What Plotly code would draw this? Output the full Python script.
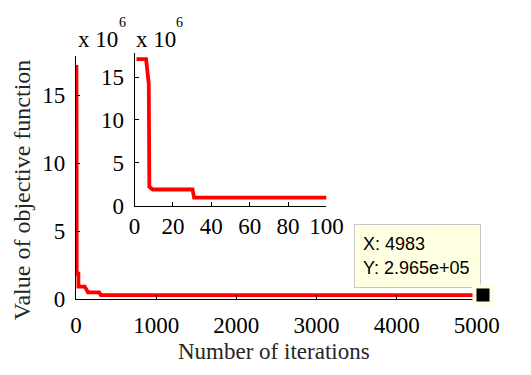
import plotly.graph_objects as go

# ---- data ----
iterations = [1, 6, 7.4, 7.7, 9.4, 30.2, 31, 100, 110, 150, 290, 310, 4983, 5000]
objective = [17.1e6, 17.1e6, 14.2e6, 2.2e6, 1.88e6, 1.88e6, 0.93e6, 0.93e6,
             0.93e6, 0.5e6, 0.5e6, 2.965e5, 2.965e5, 2.965e5]

inset_limit = 100
tip_x = 4983
tip_y = 2.965e5

main_xticks = [0, 1000, 2000, 3000, 4000, 5000]
main_yticks = [0, 5e6, 10e6, 15e6]
main_yticklabels = ["0", "5", "10", "15"]
inset_xticks = [0, 20, 40, 60, 80, 100]
inset_yticks = [0, 5e6, 10e6, 15e6]
inset_yticklabels = ["0", "5", "10", "15"]

x_title = "Number of iterations"
y_title = "Value of objective function"
exp_base = "x 10"
exp_power = "6"

W, H = 531, 375
def px(x):
    return x / W
def py(y):
    return 1 - y / H

inset_x = [v for v in iterations if v <= inset_limit]
inset_y = [o for v, o in zip(iterations, objective) if v <= inset_limit]

RED = "#FF0000"
SERIF = "Liberation Serif, Times New Roman, serif"
SANS = "Liberation Sans, Arial, sans-serif"

fig = go.Figure()
fig.add_trace(go.Scatter(x=iterations, y=objective, mode="lines",
                         line=dict(color=RED, width=3.8), xaxis="x", yaxis="y",
                         hoverinfo="skip", showlegend=False))
fig.add_trace(go.Scatter(x=inset_x, y=inset_y, mode="lines",
                         line=dict(color=RED, width=3.8), xaxis="x2", yaxis="y2",
                         hoverinfo="skip", showlegend=False))

axis_common = dict(showline=True, linecolor="black", linewidth=1, mirror=False,
                   ticks="inside", ticklen=4, tickcolor="black", tickwidth=1,
                   showgrid=False, zeroline=False,
                   tickfont=dict(family=SERIF, size=23, color="black"))

fig.update_layout(
    width=W, height=H,
    margin=dict(l=0, r=0, t=0, b=0),
    paper_bgcolor="white", plot_bgcolor="rgba(0,0,0,0)",
    xaxis=dict(domain=[px(74), px(498)], range=[0, 5000], tickvals=main_xticks,
               anchor="y", ticklabelstandoff=5, **axis_common),
    yaxis=dict(domain=[py(310), py(58)], range=[0, 1.79e7], tickvals=main_yticks,
               ticktext=main_yticklabels, anchor="x", ticklabelstandoff=5, **axis_common),
    xaxis2=dict(domain=[px(136), px(339)], range=[0, inset_limit], tickvals=inset_xticks,
                anchor="y2", ticklabelstandoff=0, **axis_common),
    yaxis2=dict(domain=[py(213), py(55)], range=[0, 1.78e7], tickvals=inset_yticks,
                ticktext=inset_yticklabels, anchor="x2", ticklabelstandoff=5, **axis_common),
    showlegend=False,
)

annotations = [
    dict(text=x_title, x=px(284), y=py(364), xref="paper", yref="paper",
         xanchor="center", yanchor="middle", showarrow=False,
         font=dict(family=SERIF, size=23, color="#262626")),
    dict(text=y_title, x=px(17), y=py(197), xref="paper", yref="paper",
         xanchor="center", yanchor="middle", showarrow=False, textangle=-90,
         font=dict(family=SERIF, size=24, color="#262626")),
]
for left in (74, 135):
    annotations.append(dict(text=exp_base, x=px(left), y=py(41), xref="paper", yref="paper",
                            xanchor="left", yanchor="middle", showarrow=False,
                            font=dict(family=SERIF, size=23, color="black")))
    annotations.append(dict(text=exp_power, x=px(left + 49), y=py(23), xref="paper",
                            yref="paper", xanchor="center", yanchor="middle",
                            showarrow=False,
                            font=dict(family=SERIF, size=14, color="black")))
annotations += [
    # datatip box
    dict(text=f"X: {tip_x}<br>Y: {tip_y:.3e}",
         x=px(368), y=py(232), xref="paper", yref="paper",
         xanchor="left", yanchor="top", showarrow=False, align="left",
         width=109, height=46, borderpad=8,
         bgcolor="#FFFFE1", bordercolor="#C8C8C8", borderwidth=1,
         font=dict(family=SANS, size=18, color="black")),
    # datatip marker (background + square)
    dict(text=" ", x=tip_x, y=tip_y, xref="x", yref="y", xshift=8,
         xanchor="center", yanchor="middle", showarrow=False,
         width=20, height=20, borderpad=0, bgcolor="#FFFFE1"),
    dict(text=" ", x=tip_x, y=tip_y, xref="x", yref="y", xshift=8,
         xanchor="center", yanchor="middle", showarrow=False,
         width=12, height=12, borderpad=0, bgcolor="black"),
]
fig.update_layout(annotations=annotations)

fig.write_html("out.html")
